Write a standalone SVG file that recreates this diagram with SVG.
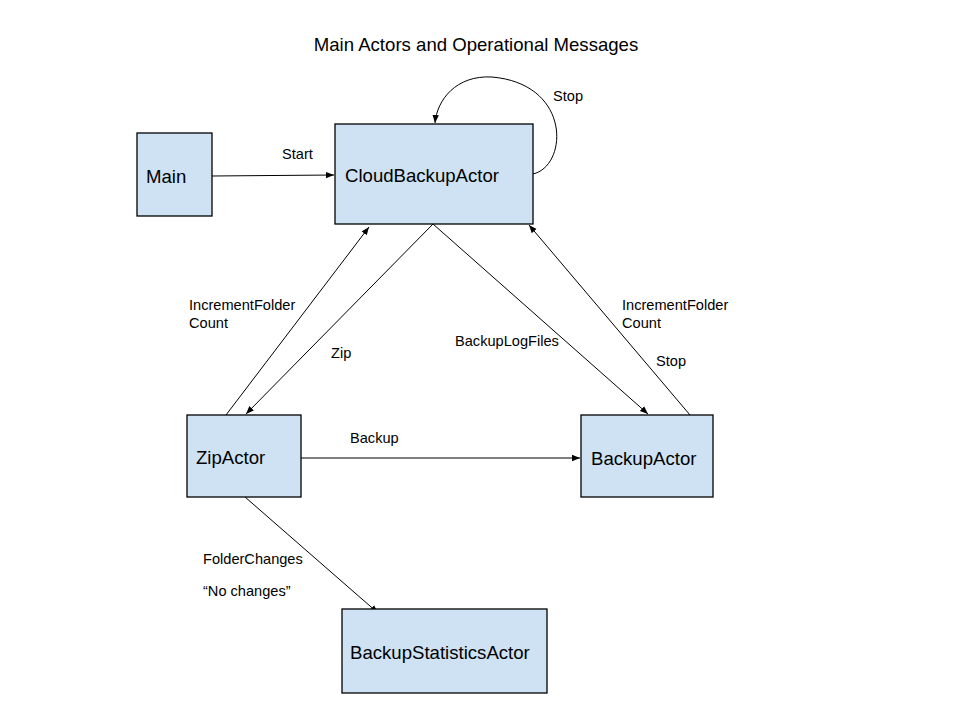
<svg xmlns="http://www.w3.org/2000/svg" width="960" height="720" viewBox="0 0 960 720">
<style>
.node{fill:#cfe2f3;stroke:#000;stroke-width:1.3}
.nt{font-family:"Liberation Sans",Arial,sans-serif;font-size:18.6px;fill:#000}
.lt{font-family:"Liberation Sans",Arial,sans-serif;font-size:14.6px;fill:#000}
.c{fill:none;stroke:#000;stroke-width:1}
</style>
<defs>
<marker id="ah" viewBox="0 0 10 10" refX="10" refY="5" markerWidth="8" markerHeight="8" markerUnits="userSpaceOnUse" orient="auto">
<path d="M0,1 L10,5 L0,9 z" fill="#000"/>
</marker>
</defs>
<rect width="960" height="720" fill="#fff"/>
<text x="476" y="51" text-anchor="middle" font-family="Liberation Sans,Arial,sans-serif" font-size="18.6" fill="#000">Main Actors and Operational Messages</text>
<g id="connectors">
<path class="c" d="M212,176 L334,175" marker-end="url(#ah)"/>
<path class="c" d="M533,174 C568,166 572,84 492,77 C456,75 437,100 435,123" marker-end="url(#ah)"/>
<path class="c" d="M226,415 L369,227" marker-end="url(#ah)"/>
<path class="c" d="M433,224 L246,414" marker-end="url(#ah)"/>
<path class="c" d="M433,224 L648,414" marker-end="url(#ah)"/>
<path class="c" d="M690,415 L529,225" marker-end="url(#ah)"/>
<path class="c" d="M301,458 L580,458" marker-end="url(#ah)"/>
<path class="c" d="M245,497 L378,613" marker-end="url(#ah)"/>
<text class="lt" x="282" y="159">Start</text>
<text class="lt" x="553" y="101">Stop</text>
<text class="lt" x="189" y="310">IncrementFolder</text>
<text class="lt" x="189" y="328">Count</text>
<text class="lt" x="331" y="358">Zip</text>
<text class="lt" x="455" y="346">BackupLogFiles</text>
<text class="lt" x="622" y="310">IncrementFolder</text>
<text class="lt" x="622" y="328">Count</text>
<text class="lt" x="656" y="366">Stop</text>
<text class="lt" x="350" y="443">Backup</text>
<text class="lt" x="203" y="564">FolderChanges</text>
<text class="lt" x="203" y="596">“No changes”</text>
</g>
<g id="main"><rect class="node" x="137" y="133" width="75" height="83"/><text class="nt" x="146" y="183">Main</text></g>
<g id="cloud"><rect class="node" x="335" y="124" width="198" height="100"/><text class="nt" x="345" y="182">CloudBackupActor</text></g>
<g id="zip"><rect class="node" x="187" y="415" width="114" height="82"/><text class="nt" x="196" y="464">ZipActor</text></g>
<g id="backup"><rect class="node" x="581" y="415" width="132" height="82"/><text class="nt" x="591" y="465">BackupActor</text></g>
<g id="stats"><rect class="node" x="342" y="609" width="205" height="84"/><text class="nt" x="350" y="659">BackupStatisticsActor</text></g>
</svg>
